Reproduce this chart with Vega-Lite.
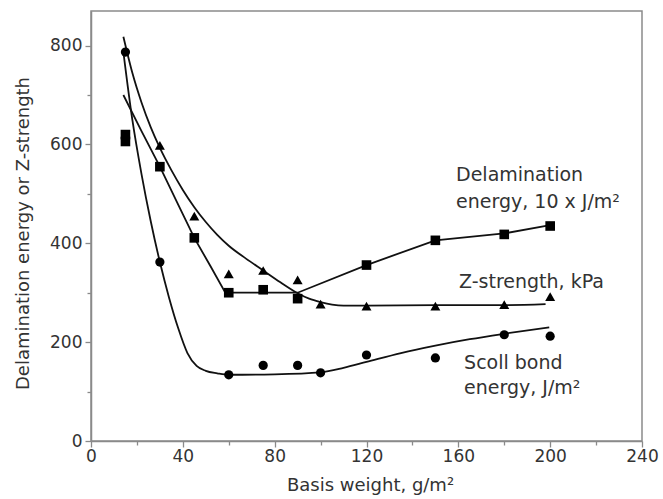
{
  "$schema": "https://vega.github.io/schema/vega-lite/v6.json",
  "autosize": {"type": "none"},
  "width": 551,
  "height": 430,
  "padding": {"left": 91, "top": 11, "right": 21, "bottom": 58},
  "background": "white",
  "config": {
    "view": {"stroke": "#8a8a8a", "strokeWidth": 1.5},
    "font": "DejaVu Sans"
  },
  "datasets": {
    "points": [
      {"series": "scott", "x": 15, "y": 787},
      {"series": "scott", "x": 30, "y": 362},
      {"series": "scott", "x": 60, "y": 134},
      {"series": "scott", "x": 75, "y": 153},
      {"series": "scott", "x": 90, "y": 153},
      {"series": "scott", "x": 100, "y": 138},
      {"series": "scott", "x": 120, "y": 174},
      {"series": "scott", "x": 150, "y": 168},
      {"series": "scott", "x": 180, "y": 215},
      {"series": "scott", "x": 200, "y": 212},
      {"series": "delam", "x": 15, "y": 620},
      {"series": "delam", "x": 15, "y": 606},
      {"series": "delam", "x": 30, "y": 555},
      {"series": "delam", "x": 45, "y": 411},
      {"series": "delam", "x": 60, "y": 300},
      {"series": "delam", "x": 75, "y": 306},
      {"series": "delam", "x": 90, "y": 288},
      {"series": "delam", "x": 120, "y": 356},
      {"series": "delam", "x": 150, "y": 406},
      {"series": "delam", "x": 180, "y": 418},
      {"series": "delam", "x": 200, "y": 435},
      {"series": "z", "x": 30, "y": 598},
      {"series": "z", "x": 45, "y": 455},
      {"series": "z", "x": 60, "y": 338},
      {"series": "z", "x": 75, "y": 345},
      {"series": "z", "x": 90, "y": 326},
      {"series": "z", "x": 100, "y": 277},
      {"series": "z", "x": 120, "y": 273},
      {"series": "z", "x": 150, "y": 273},
      {"series": "z", "x": 180, "y": 276},
      {"series": "z", "x": 200, "y": 292}
    ],
    "curves": [
      {"series": "scott", "x": 14.1, "y": 787},
      {"series": "scott", "x": 18, "y": 650},
      {"series": "scott", "x": 22, "y": 540},
      {"series": "scott", "x": 26, "y": 445},
      {"series": "scott", "x": 30, "y": 362},
      {"series": "scott", "x": 34, "y": 290},
      {"series": "scott", "x": 38, "y": 228},
      {"series": "scott", "x": 42, "y": 178},
      {"series": "scott", "x": 46, "y": 152},
      {"series": "scott", "x": 50, "y": 142},
      {"series": "scott", "x": 55, "y": 137},
      {"series": "scott", "x": 60, "y": 134},
      {"series": "scott", "x": 80, "y": 135},
      {"series": "scott", "x": 100, "y": 139},
      {"series": "scott", "x": 110, "y": 148},
      {"series": "scott", "x": 120, "y": 160},
      {"series": "scott", "x": 135, "y": 178},
      {"series": "scott", "x": 150, "y": 193},
      {"series": "scott", "x": 165, "y": 206},
      {"series": "scott", "x": 180, "y": 217},
      {"series": "scott", "x": 199.6, "y": 230},
      {"series": "z", "x": 14.1, "y": 818},
      {"series": "z", "x": 18, "y": 745},
      {"series": "z", "x": 22, "y": 685},
      {"series": "z", "x": 26, "y": 635},
      {"series": "z", "x": 30, "y": 593},
      {"series": "z", "x": 35, "y": 548},
      {"series": "z", "x": 40, "y": 508},
      {"series": "z", "x": 45, "y": 473},
      {"series": "z", "x": 50, "y": 443},
      {"series": "z", "x": 55, "y": 417},
      {"series": "z", "x": 60, "y": 395},
      {"series": "z", "x": 67.5, "y": 369},
      {"series": "z", "x": 75, "y": 345},
      {"series": "z", "x": 82.5, "y": 321},
      {"series": "z", "x": 90, "y": 299},
      {"series": "z", "x": 95, "y": 288},
      {"series": "z", "x": 100, "y": 281},
      {"series": "z", "x": 105, "y": 276},
      {"series": "z", "x": 110, "y": 274},
      {"series": "z", "x": 120, "y": 274},
      {"series": "z", "x": 150, "y": 275},
      {"series": "z", "x": 180, "y": 275},
      {"series": "z", "x": 198, "y": 277}
    ],
    "delamcurve": [
      {"x": 14.1, "y": 700},
      {"x": 22, "y": 627},
      {"x": 30, "y": 555},
      {"x": 37.5, "y": 483},
      {"x": 45, "y": 411},
      {"x": 52, "y": 354},
      {"x": 58.5, "y": 300},
      {"x": 90, "y": 300},
      {"x": 120, "y": 356},
      {"x": 150, "y": 406},
      {"x": 180, "y": 420},
      {"x": 200, "y": 437}
    ],
    "labels": [
      {"text": "Delamination", "x": 159, "y": 538},
      {"text": "energy, 10 x J/m²", "x": 159, "y": 484},
      {"text": "Z-strength, kPa", "x": 160.3, "y": 322},
      {"text": "Scoll bond", "x": 162.5, "y": 158},
      {"text": "energy, J/m²", "x": 162.5, "y": 107}
    ]
  },
  "encoding": {
    "x": {
      "field": "x",
      "type": "quantitative",
      "scale": {"domain": [0, 240], "nice": false, "zero": false},
      "axis": {
        "title": "Basis weight, g/m²",
        "values": [0, 20, 40, 60, 80, 100, 120, 140, 160, 180, 200, 220, 240],
        "labelExpr": "datum.value % 40 === 0 ? datum.label : ''",
        "grid": false,
        "domainColor": "#8a8a8a",
        "domainWidth": 1.5,
        "tickColor": "#8a8a8a",
        "tickWidth": 1.3,
        "tickSize": {"condition": {"test": "datum.value % 40 === 0", "value": 6}, "value": 4},
        "labelPadding": 1,
        "labelFontSize": 17,
        "labelColor": "#333333",
        "labelFlush": false,
        "labelOverlap": false,
        "titleFontSize": 18,
        "titleFontWeight": "normal",
        "titleColor": "#333333",
        "titleX": 279,
        "titleY": 44,
        "titleBaseline": "middle",
        "titleAlign": "center"
      }
    },
    "y": {
      "field": "y",
      "type": "quantitative",
      "scale": {"domain": [0, 870], "nice": false, "zero": false},
      "axis": {
        "title": "Delamination energy or Z-strength",
        "values": [0, 100, 200, 300, 400, 500, 600, 700, 800],
        "labelExpr": "datum.value % 200 === 0 ? datum.label : ''",
        "grid": false,
        "domainColor": "#8a8a8a",
        "domainWidth": 1.5,
        "tickColor": "#8a8a8a",
        "tickWidth": 1.3,
        "tickSize": {"condition": {"test": "datum.value % 200 === 0", "value": 6}, "value": 4},
        "labelPadding": 3,
        "labelFontSize": 17,
        "labelColor": "#333333",
        "labelFlush": false,
        "labelOverlap": false,
        "titleFontSize": 18,
        "titleFontWeight": "normal",
        "titleColor": "#333333",
        "titleAngle": -90,
        "titleX": -68,
        "titleY": 222,
        "titleBaseline": "middle",
        "titleAlign": "center"
      }
    }
  },
  "layer": [
    {
      "data": {"name": "curves"},
      "mark": {"type": "line", "interpolate": "monotone", "color": "#111111", "strokeWidth": 1.8},
      "encoding": {"detail": {"field": "series", "type": "nominal"}}
    },
    {
      "data": {"name": "delamcurve"},
      "mark": {"type": "line", "interpolate": "linear", "color": "#111111", "strokeWidth": 1.8},
      "encoding": {}
    },
    {
      "data": {"name": "points"},
      "mark": {"type": "point", "filled": true, "color": "#000000", "opacity": 1},
      "encoding": {
        "shape": {
          "field": "series",
          "type": "nominal",
          "scale": {"domain": ["scott", "delam", "z"], "range": ["circle", "square", "triangle-up"]},
          "legend": null
        },
        "size": {
          "field": "series",
          "type": "nominal",
          "scale": {"domain": ["scott", "delam", "z"], "range": [85, 100, 110]},
          "legend": null
        }
      }
    },
    {
      "data": {"name": "labels"},
      "mark": {"type": "text", "align": "left", "baseline": "middle", "fontSize": 19, "color": "#333333", "font": "DejaVu Sans"},
      "encoding": {"text": {"field": "text", "type": "nominal"}}
    }
  ]
}
